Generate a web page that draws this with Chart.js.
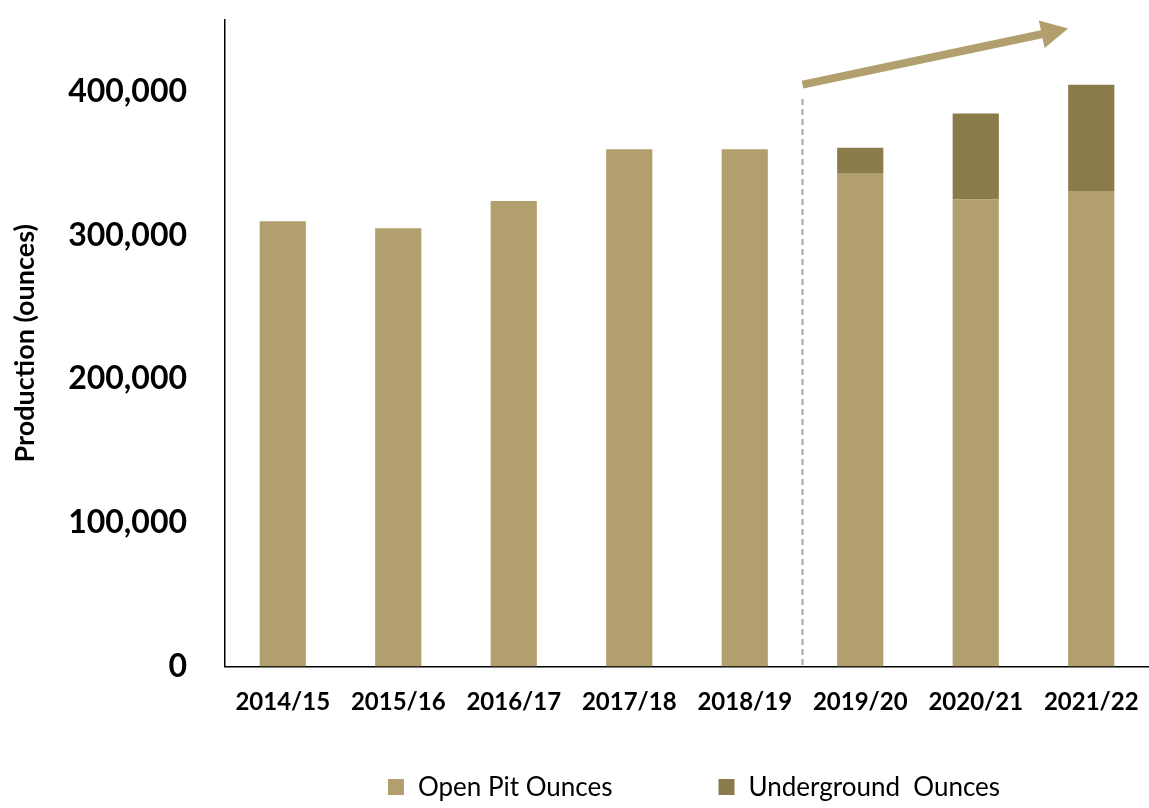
<!DOCTYPE html>
<html>
<head>
<meta charset="utf-8">
<title>Production (ounces)</title>
<script src="https://cdn.jsdelivr.net/npm/chart.js@4"></script>
<style>
  html, body { margin: 0; padding: 0; background: #fff; }
  #wrap { width: 1149px; height: 808px; }
</style>
</head>
<body>
<div id="wrap"><canvas id="production"></canvas></div>
<script>
const years = ['2014/15', '2015/16', '2016/17', '2017/18', '2018/19', '2019/20', '2020/21', '2021/22'];
const openPitOunces = [310000, 305000, 324000, 360000, 360000, 343000, 325000, 331000];
const undergroundOunces = [0, 0, 0, 0, 0, 18000, 60000, 74000];
const yTicks = [0, 100000, 200000, 300000, 400000];

const OPEN_PIT = '#B1A06E';
const UNDERGROUND = '#8B7B4A';
const FONT = 'Lato, "Open Sans", sans-serif';

// forecast divider and growth arrow, placed in axis units
const dividerAt = 4.5;
const dividerTop = 395000;
const arrowFrom = { x: 4.5, y: 405000 };
const arrowTo = { x: 6.8, y: 444000 };

const forecastMarks = {
  id: 'forecastMarks',
  afterDatasetsDraw(chart) {
    const { ctx, scales: { x, y } } = chart;
    ctx.save();
    // dashed divider
    ctx.strokeStyle = '#A6A6A6';
    ctx.lineWidth = 2;
    ctx.setLineDash([6, 4]);
    ctx.beginPath();
    ctx.moveTo(x.getPixelForValue(dividerAt), y.getPixelForValue(dividerTop));
    ctx.lineTo(x.getPixelForValue(dividerAt), y.getPixelForValue(0));
    ctx.stroke();
    ctx.setLineDash([]);

    // arrow
    const x0 = x.getPixelForValue(arrowFrom.x), y0 = y.getPixelForValue(arrowFrom.y);
    const x1 = x.getPixelForValue(arrowTo.x), y1 = y.getPixelForValue(arrowTo.y);
    const ang = Math.atan2(y1 - y0, x1 - x0);
    const headLen = 27, headHalf = 14;
    const bx = x1 - headLen * Math.cos(ang), by = y1 - headLen * Math.sin(ang);
    ctx.strokeStyle = OPEN_PIT;
    ctx.fillStyle = OPEN_PIT;
    ctx.lineWidth = 8;
    ctx.beginPath();
    ctx.moveTo(x0, y0);
    ctx.lineTo(bx + Math.cos(ang), by + Math.sin(ang));
    ctx.stroke();
    ctx.beginPath();
    ctx.moveTo(x1, y1);
    ctx.lineTo(bx + headHalf * Math.sin(ang), by - headHalf * Math.cos(ang));
    ctx.lineTo(bx - headHalf * Math.sin(ang), by + headHalf * Math.cos(ang));
    ctx.closePath();
    ctx.fill();
    ctx.restore();
  }
};

// legend drawn under the x labels, centred on the plot area
const bottomLegend = {
  id: 'bottomLegend',
  afterDraw(chart) {
    const { ctx, chartArea } = chart;
    const items = chart.data.datasets.map(ds => ({ text: ds.label, color: ds.backgroundColor }));
    const box = 16, gapText = 14, gapItems = 106, cy = 787;
    ctx.save();
    ctx.font = '26px ' + FONT;
    ctx.textBaseline = 'middle';
    ctx.textAlign = 'left';
    const widths = items.map(it => box + gapText + ctx.measureText(it.text).width);
    const total = widths.reduce((a, b) => a + b, 0) + gapItems * (items.length - 1);
    let cx = (chartArea.left + chartArea.right) / 2 + 7 - total / 2;
    items.forEach((it, i) => {
      ctx.fillStyle = it.color;
      ctx.fillRect(cx, cy - box / 2, box, box);
      ctx.fillStyle = '#000';
      ctx.fillText(it.text, cx + box + gapText, cy + 1);
      cx += widths[i] + gapItems;
    });
    ctx.restore();
  }
};

new Chart(document.getElementById('production'), {
  type: 'bar',
  data: {
    labels: years,
    datasets: [
      { label: 'Open Pit Ounces', data: openPitOunces, backgroundColor: OPEN_PIT },
      { label: 'Underground  Ounces', data: undergroundOunces, backgroundColor: UNDERGROUND }
    ]
  },
  options: {
    responsive: true,
    maintainAspectRatio: false,
    animation: false,
    layout: { padding: { top: 20, right: 0, bottom: 0, left: 0 } },
    datasets: { bar: { categoryPercentage: 1, barPercentage: 0.4 } },
    plugins: {
      legend: { display: false },
      tooltip: { enabled: false }
    },
    scales: {
      x: {
        stacked: true,
        grid: { display: false, drawTicks: false },
        border: { display: true, color: '#000', width: 1.5 },
        ticks: {
          color: '#000',
          padding: 21,
          maxRotation: 0,
          font: { family: FONT, size: 24, weight: 'bold' }
        },
        afterFit(scale) {
          scale.height = 141.5;
          scale.paddingLeft = 0;
          scale.paddingRight = 0;
        }
      },
      y: {
        stacked: true,
        min: 0,
        max: 450000,
        grid: { display: false, drawTicks: false },
        border: { display: true, color: '#000', width: 1.5 },
        afterBuildTicks(scale) { scale.ticks = yTicks.map(v => ({ value: v })); },
        ticks: {
          color: '#000',
          padding: 38,
          font: { family: FONT, size: 32, weight: 'bold' },
          callback: v => v.toLocaleString('en-US')
        },
        title: {
          display: true,
          text: 'Production (ounces)',
          color: '#000',
          padding: { top: 9, bottom: 0 },
          font: { family: FONT, size: 27, weight: 'bold' }
        },
        afterFit(scale) {
          scale.width = 225;
          scale.paddingTop = 0;
          scale.paddingBottom = 0;
        }
      }
    }
  },
  plugins: [forecastMarks, bottomLegend]
});
</script>
</body>
</html>
